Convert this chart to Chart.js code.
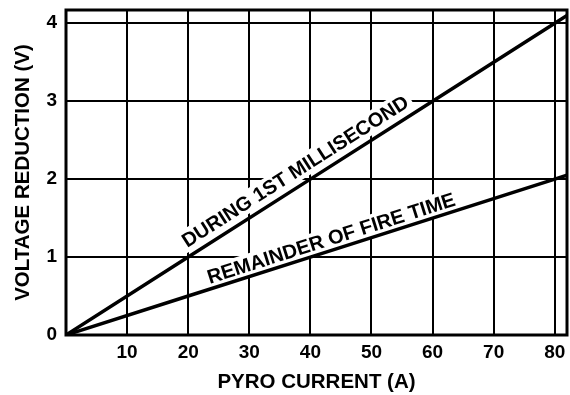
<!DOCTYPE html>
<html>
<head>
<meta charset="utf-8">
<script src="https://cdn.jsdelivr.net/npm/chart.js@4/dist/chart.umd.min.js"></script>
<style>
  html, body { margin: 0; padding: 0; background: #fff; }
  #wrap { width: 570px; height: 395px; }
</style>
</head>
<body>
<div id="wrap"><canvas id="c" width="570" height="395"></canvas></div>
<script>
// Pyro current (A) against voltage reduction (V)
const current = [0, 20, 40, 60, 80, 82];
const duringFirstMs = [0, 1.0, 2.0, 3.0, 4.0, 4.1];
const remainderOfFire = [0, 0.5, 1.0, 1.5, 2.0, 2.05];
const xTicks = [10, 20, 30, 40, 50, 60, 70, 80];
const yTicks = [0, 1, 2, 3, 4];

const seriesNames = ['DURING 1ST MILLISECOND', 'REMAINDER OF FIRE TIME'];
// where each curve's caption sits (in axis units)
const captionAt = [
  { x: 37.5, y: 2.10 },
  { x: 43.4, y: 1.24 }
];

const FONT = '"Liberation Sans", Arial, Helvetica, sans-serif';

function pts(xs, ys) { return xs.map((x, i) => ({ x: x, y: ys[i] })); }

// captions rotated along their curve, on a white ground that breaks the grid
const captions = {
  id: 'captions',
  beforeDatasetsDraw(chart) {
    const ctx = chart.ctx;
    const xs = chart.scales.x, ys = chart.scales.y;
    chart.data.datasets.forEach((ds, i) => {
      const a = ds.data[0], b = ds.data[4];
      const ang = Math.atan2(ys.getPixelForValue(b.y) - ys.getPixelForValue(a.y),
                             xs.getPixelForValue(b.x) - xs.getPixelForValue(a.x));
      const px = xs.getPixelForValue(captionAt[i].x);
      const py = ys.getPixelForValue(captionAt[i].y);
      ctx.save();
      ctx.translate(px, py);
      ctx.rotate(ang);
      ctx.font = 'bold 20px ' + FONT;
      const w = ctx.measureText(seriesNames[i]).width;
      ctx.fillStyle = '#fff';
      ctx.fillRect(-w / 2 - 4, -11, w + 8, 22);
      ctx.fillStyle = '#000';
      ctx.textAlign = 'center';
      ctx.textBaseline = 'middle';
      ctx.fillText(seriesNames[i], 0, 1);
      ctx.restore();
    });
  }
};

// heavy frame round the plotting area
const frame = {
  id: 'frame',
  afterDatasetsDraw(chart) {
    const { left, top, right, bottom } = chart.chartArea;
    const ctx = chart.ctx;
    ctx.save();
    ctx.strokeStyle = '#000';
    ctx.lineWidth = 3;
    ctx.strokeRect(left, top, right - left, bottom - top);
    ctx.restore();
  }
};

new Chart(document.getElementById('c'), {
  type: 'line',
  data: {
    datasets: [
      { label: seriesNames[0], data: pts(current, duringFirstMs) },
      { label: seriesNames[1], data: pts(current, remainderOfFire) }
    ].map(d => Object.assign(d, {
      borderColor: '#000', borderWidth: 3.5, pointRadius: 0, tension: 0, fill: false
    }))
  },
  options: {
    responsive: false,
    animation: false,
    events: [],
    layout: { padding: { top: 10, right: 3, left: 0, bottom: 0 } },
    plugins: { legend: { display: false }, tooltip: { enabled: false } },
    scales: {
      x: {
        type: 'linear', min: 0, max: 82,
        afterBuildTicks: s => { s.ticks = xTicks.map(v => ({ value: v })); },
        afterFit: s => { s.height = 60; s.paddingLeft = 0; s.paddingRight = 0; },
        grid: { color: '#000', lineWidth: 2, drawTicks: false },
        border: { display: false },
        ticks: { color: '#000', padding: 6, maxRotation: 0, font: { family: FONT, size: 19, weight: 'bold' } },
        title: { display: true, text: 'PYRO CURRENT (A)', color: '#000',
                 padding: { top: 0, bottom: 0 }, font: { family: FONT, size: 20.5, weight: 'bold' } }
      },
      y: {
        type: 'linear', min: 0, max: 4.17,
        afterBuildTicks: s => { s.ticks = yTicks.map(v => ({ value: v })); },
        afterFit: s => { s.width = 66; s.paddingTop = 0; s.paddingBottom = 0; },
        grid: { color: '#000', lineWidth: 2, drawTicks: false },
        border: { display: false },
        ticks: { color: '#000', padding: 9, font: { family: FONT, size: 19, weight: 'bold' } },
        title: { display: true, text: 'VOLTAGE REDUCTION (V)', color: '#000',
                 padding: { top: 11, bottom: 0 }, font: { family: FONT, size: 20.5, weight: 'bold' } }
      }
    }
  },
  plugins: [captions, frame]
});
</script>
</body>
</html>
